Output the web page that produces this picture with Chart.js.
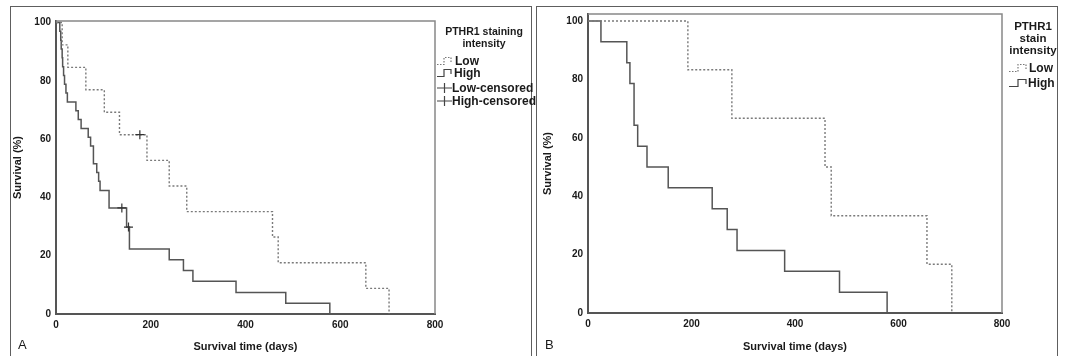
<!DOCTYPE html>
<html>
<head>
<meta charset="utf-8">
<script src="https://cdn.jsdelivr.net/npm/chart.js@4.4.1/dist/chart.umd.min.js"></script>
<style>
  html, body { margin: 0; padding: 0; background: #fff; }
  body { width: 1068px; height: 356px; position: relative; overflow: hidden;
         font-family: "Liberation Sans", Arial, sans-serif; color: #1a1a1a; }
  .frame { position: absolute; top: 6px; height: 380px; border: 1.5px solid #5e5e5e; box-sizing: border-box; }
  .box { position: absolute; }
  .ltitle { position: absolute; text-align: center; font-weight: bold; line-height: 12px; }
  .item { position: absolute; height: 13px; line-height: 13px; white-space: nowrap; font-weight: bold; font-size: 12px; }
  .letter { position: absolute; font-size: 13px; line-height: 13px; }
</style>
</head>
<body>
<div class="frame" style="left:10px;width:522px;"></div>
<div class="frame" style="left:536px;width:522px;"></div>

<div class="box" style="left:11px;top:7px;width:520px;height:349px;"><canvas id="chartA"></canvas></div>
<div class="box" style="left:538px;top:3px;width:518px;height:353px;"><canvas id="chartB"></canvas></div>

<!-- legend A -->
<div class="ltitle" style="left:436px;top:25px;width:96px;font-size:10.5px;">PTHR1 staining<br>intensity</div>
<svg class="item" style="left:436px;top:55px;" width="18" height="12"><path d="M1 9.5 H8 V2.5 H15 V7" fill="none" stroke="#777" stroke-width="1.2" stroke-dasharray="1.5 1.5"/></svg>
<div class="item" style="left:455px;top:54.5px;">Low</div>
<svg class="item" style="left:436px;top:67px;" width="18" height="12"><path d="M1 9.5 H8 V2.5 H15 V7" fill="none" stroke="#444" stroke-width="1.2"/></svg>
<div class="item" style="left:454px;top:66.5px;">High</div>
<svg class="item" style="left:436px;top:82px;" width="18" height="12"><path d="M1 6 H16 M8.5 1 V11" fill="none" stroke="#444" stroke-width="1.2"/></svg>
<div class="item" style="left:452px;top:81.5px;">Low-censored</div>
<svg class="item" style="left:436px;top:95px;" width="18" height="12"><path d="M1 6 H16 M8.5 1 V11" fill="none" stroke="#444" stroke-width="1.2"/></svg>
<div class="item" style="left:452px;top:94.5px;">High-censored</div>

<!-- legend B -->
<div class="ltitle" style="left:1005px;top:20px;width:56px;font-size:11.5px;">PTHR1<br>stain<br>intensity</div>
<svg class="item" style="left:1008px;top:62px;" width="20" height="12"><path d="M1 9.5 H10 V2.5 H18 V7" fill="none" stroke="#777" stroke-width="1.2" stroke-dasharray="1.5 1.5"/></svg>
<div class="item" style="left:1029px;top:61.5px;">Low</div>
<svg class="item" style="left:1008px;top:77px;" width="20" height="12"><path d="M1 9.5 H10 V2.5 H18 V7" fill="none" stroke="#444" stroke-width="1.2"/></svg>
<div class="item" style="left:1028px;top:76.5px;">High</div>

<div class="letter" style="left:18px;top:338px;">A</div>
<div class="letter" style="left:545px;top:338px;">B</div>

<script>
// axis ticks
var xTicks = [0, 200, 400, 600, 800];
var yTicks = [0, 20, 40, 60, 80, 100];

// panel A, days and survival (%)
var aLowDays = [0, 13, 25, 63, 102, 134, 192, 239, 276, 457, 469, 654, 703];
var aLowSurv = [100, 92.3, 84.6, 76.9, 69.2, 61.5, 52.7, 43.9, 35.1, 26.4, 17.6, 8.8, 0];
var aLowCensDays = [177];
var aLowCensSurv = [61.5];
var aHighDays = [0, 8, 10, 11, 13, 14, 16, 18, 21, 24, 42, 47, 53, 68, 73, 79, 86, 90, 93, 112, 149, 155, 239, 269, 289, 380, 485, 578];
var aHighSurv = [100, 97.0, 93.9, 90.9, 87.9, 84.8, 81.8, 78.8, 75.8, 72.7, 69.7, 66.7, 63.6, 60.6, 57.6, 51.5, 48.5, 45.5, 42.4, 36.4, 29.8, 22.3, 18.6, 14.9, 11.2, 7.4, 3.7, 0];
var aHighCensDays = [139, 153];
var aHighCensSurv = [36.4, 29.8];

// panel B
var bLowDays = [0, 193, 278, 458, 470, 655, 703];
var bLowSurv = [100, 83.3, 66.7, 50, 33.3, 16.7, 0];
var bHighDays = [0, 25, 75, 81, 89, 96, 114, 155, 240, 269, 288, 380, 486, 578];
var bHighSurv = [100, 92.9, 85.7, 78.6, 64.3, 57.1, 50, 42.9, 35.7, 28.6, 21.4, 14.3, 7.1, 0];

Chart.defaults.font.family = "'Liberation Sans', Arial, sans-serif";
Chart.defaults.color = "#1a1a1a";

function pts(xs, ys) {
  return xs.map(function (x, i) { return { x: x, y: ys[i] }; });
}

function lowLine(xs, ys) {
  return { data: pts(xs, ys), stepped: true, borderColor: "#7a7a7a", borderWidth: 1.4,
           borderDash: [2, 2], pointRadius: 0, fill: false };
}
function highLine(xs, ys) {
  return { data: pts(xs, ys), stepped: true, borderColor: "#555", borderWidth: 1.5,
           pointRadius: 0, fill: false };
}
function censMarks(xs, ys) {
  return { data: pts(xs, ys), showLine: false, pointStyle: "cross", pointRadius: 4.5,
           borderColor: "#333", borderWidth: 1.2 };
}

var boxBorder = {
  id: "boxBorder",
  afterDatasetsDraw: function (chart) {
    var a = chart.chartArea, ctx = chart.ctx;
    ctx.save();
    ctx.strokeStyle = "#888";
    ctx.lineWidth = 1.5;
    ctx.beginPath();
    ctx.moveTo(a.left, a.top);
    ctx.lineTo(a.right, a.top);
    ctx.lineTo(a.right, a.bottom);
    ctx.stroke();
    ctx.restore();
  }
};

function options(yMax, yW, xH, pad, yTitlePad) {
  return {
    responsive: true,
    maintainAspectRatio: false,
    animation: false,
    layout: { padding: pad },
    plugins: { legend: { display: false }, tooltip: { enabled: false } },
    scales: {
      x: {
        type: "linear", min: 0, max: 800,
        afterBuildTicks: function (s) { s.ticks = xTicks.map(function (v) { return { value: v }; }); },
        afterFit: function (s) { s.height = xH; },
        grid: { display: false, drawTicks: false },
        border: { color: "#555", width: 2 },
        ticks: { font: { size: 10, weight: "bold" }, padding: 5, maxRotation: 0 },
        title: { display: true, text: "Survival time (days)", font: { size: 11, weight: "bold" },
                 padding: { top: 0, bottom: 0 } }
      },
      y: {
        min: 0, max: yMax,
        afterBuildTicks: function (s) { s.ticks = yTicks.map(function (v) { return { value: v }; }); },
        afterFit: function (s) { s.width = yW; },
        grid: { display: false, drawTicks: false },
        border: { color: "#555", width: 2 },
        ticks: { font: { size: 10, weight: "bold" }, padding: 5 },
        title: { display: true, text: "Survival (%)", font: { size: 11, weight: "bold" },
                 padding: { top: yTitlePad, bottom: 0 } }
      }
    }
  };
}

new Chart(document.getElementById("chartA"), {
  type: "line",
  data: {
    datasets: [
      censMarks(aLowCensDays, aLowCensSurv),
      censMarks(aHighCensDays, aHighCensSurv),
      lowLine(aLowDays, aLowSurv),
      highLine(aHighDays, aHighSurv)
    ]
  },
  options: options(100.5, 45, 40, { left: 0, right: 96, top: 14, bottom: 2 }, 0),
  plugins: [boxBorder]
});

new Chart(document.getElementById("chartB"), {
  type: "line",
  data: {
    datasets: [
      lowLine(bLowDays, bLowSurv),
      highLine(bHighDays, bHighSurv)
    ]
  },
  options: options(102.4, 50, 40.5, { left: 0, right: 54, top: 7, bottom: 2.5 }, 3.4),
  plugins: [boxBorder]
});
</script>
</body>
</html>
